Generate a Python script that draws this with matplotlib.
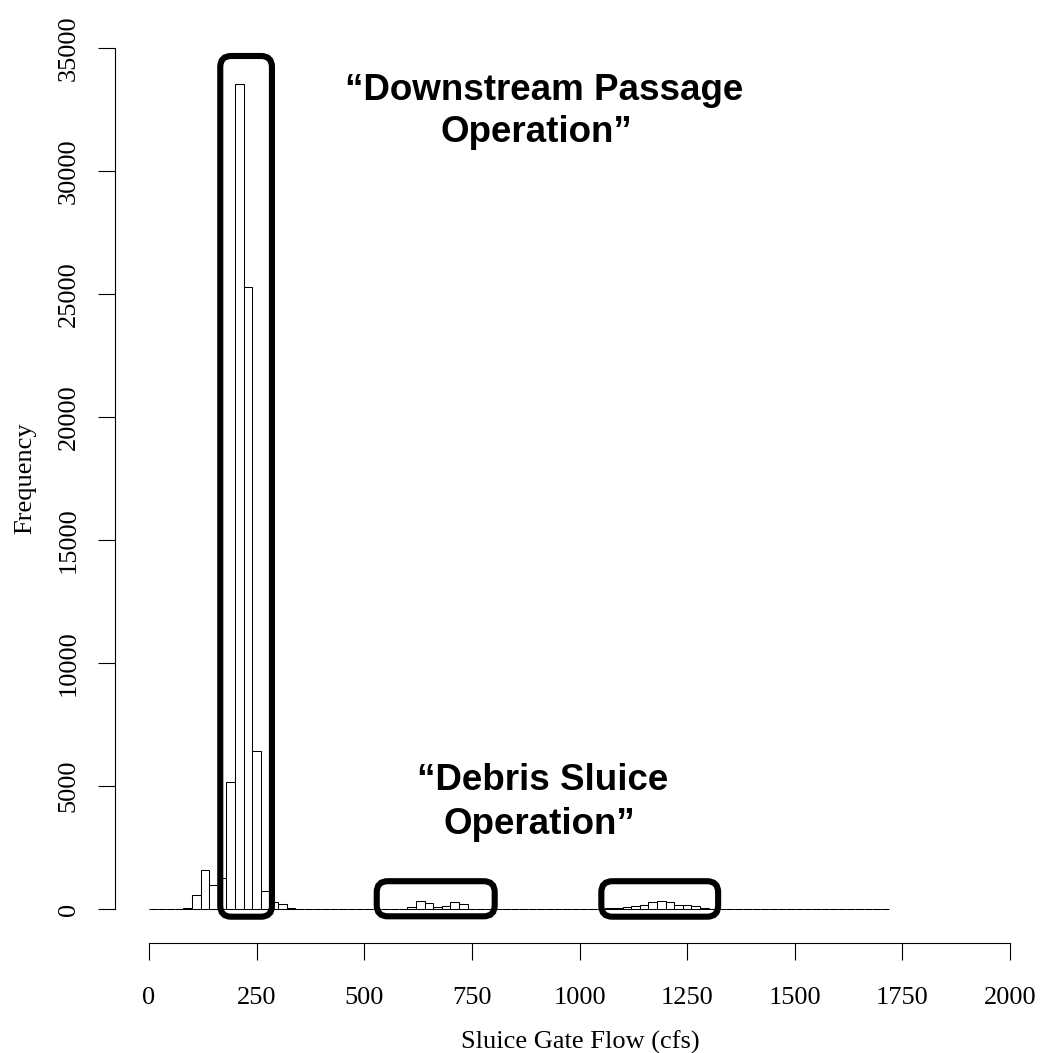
import matplotlib
matplotlib.use("Agg")
import matplotlib.pyplot as plt
import numpy as np
from matplotlib.patches import FancyBboxPatch
from matplotlib.transforms import IdentityTransform

# histogram of sluice gate flow, 20 cfs bins from 0 to 1720
bin_width = 20
breaks = np.arange(0, 1720 + bin_width, bin_width)

# bin start (cfs) -> count, all other bins are empty
low_flow_bins = [80, 100, 120, 140, 160, 180, 200, 220, 240, 260, 280, 300, 320]
low_flow_counts = [50, 570, 1570, 975, 1270, 5180, 33550, 25270, 6440, 730, 270, 190, 45]
mid_flow_bins = [600, 620, 640, 660, 680, 700, 720]
mid_flow_counts = [80, 325, 230, 80, 120, 270, 190]
high_flow_bins = [1060, 1080, 1100, 1120, 1140, 1160, 1180, 1200, 1220, 1240, 1260, 1280]
high_flow_counts = [25, 25, 80, 110, 160, 270, 325, 270, 160, 160, 110, 50]

x_ticks = [0, 250, 500, 750, 1000, 1250, 1500, 1750, 2000]
y_ticks = [0, 5000, 10000, 15000, 20000, 25000, 30000, 35000]

# highlight boxes (x0, x1, y0, y1) in data units
boxes = [(165.5, 285.6, -313, 34675),
         (529, 803, -297, 1130),
         (1050.7, 1322, -313, 1130)]

counts = np.zeros(len(breaks) - 1)
for b, c in zip(low_flow_bins + mid_flow_bins + high_flow_bins,
                low_flow_counts + mid_flow_counts + high_flow_counts):
    counts[b // bin_width] = c

serif = "Liberation Serif"
sans = "Liberation Sans"

fig = plt.figure(figsize=(10.42, 10.53), dpi=100)
ax = fig.add_axes([115 / 1042, (1053 - 943) / 1053, 900 / 1042, 903 / 1053])

ax.bar(breaks[:-1], counts, width=bin_width, align="edge",
       facecolor="white", edgecolor="black", linewidth=0.75)

ax.set_xlim(-79.0, 2011.6)
ax.set_ylim(-1382, 35325)

for s in ["top", "right"]:
    ax.spines[s].set_visible(False)
ax.spines["left"].set_bounds(0, 35000)
ax.spines["bottom"].set_bounds(0, 2000)
for s in ["left", "bottom"]:
    ax.spines[s].set_linewidth(0.8)

ax.set_xticks(x_ticks)
ax.set_xticklabels([str(t) for t in x_ticks], fontfamily=serif, fontsize=19)
ax.set_yticks(y_ticks)
ax.set_yticklabels([str(t) for t in y_ticks], fontfamily=serif, fontsize=19,
                   rotation=90, va="center")
ax.tick_params(axis="x", length=12.5, width=0.8, pad=19.5)
ax.tick_params(axis="y", length=12.5, width=0.8, pad=13)

ax.set_xlabel("Sluice Gate Flow (cfs)", fontfamily=serif, fontsize=19)
ax.xaxis.set_label_coords(0.517, -0.11)
ax.xaxis.label.set_va("center")
ax.set_ylabel("Frequency", fontfamily=serif, fontsize=19)
ax.yaxis.set_label_coords(-0.1, 0.515)
ax.yaxis.label.set_va("center")

# rounded outline boxes, drawn in pixel space so the corners stay circular
for x0, x1, y0, y1 in boxes:
    (px0, py0), (px1, py1) = ax.transData.transform([(x0, y0), (x1, y1)])
    box = FancyBboxPatch((px0, py0), px1 - px0, py1 - py0,
                         boxstyle="round,pad=0,rounding_size=11",
                         transform=IdentityTransform(), facecolor="none",
                         edgecolor="black", linewidth=4.4, clip_on=False)
    ax.add_patch(box)

note_kw = dict(fontfamily=sans, fontweight="bold", fontsize=26.5,
               ha="center", va="baseline")
ax.text(917, 32880, "\u201cDownstream Passage", **note_kw)
ax.text(899, 31170, "Operation\u201d", **note_kw)
ax.text(914, 4820, "\u201cDebris Sluice", **note_kw)
ax.text(906, 3040, "Operation\u201d", **note_kw)

fig.savefig("out.png", dpi=100)
